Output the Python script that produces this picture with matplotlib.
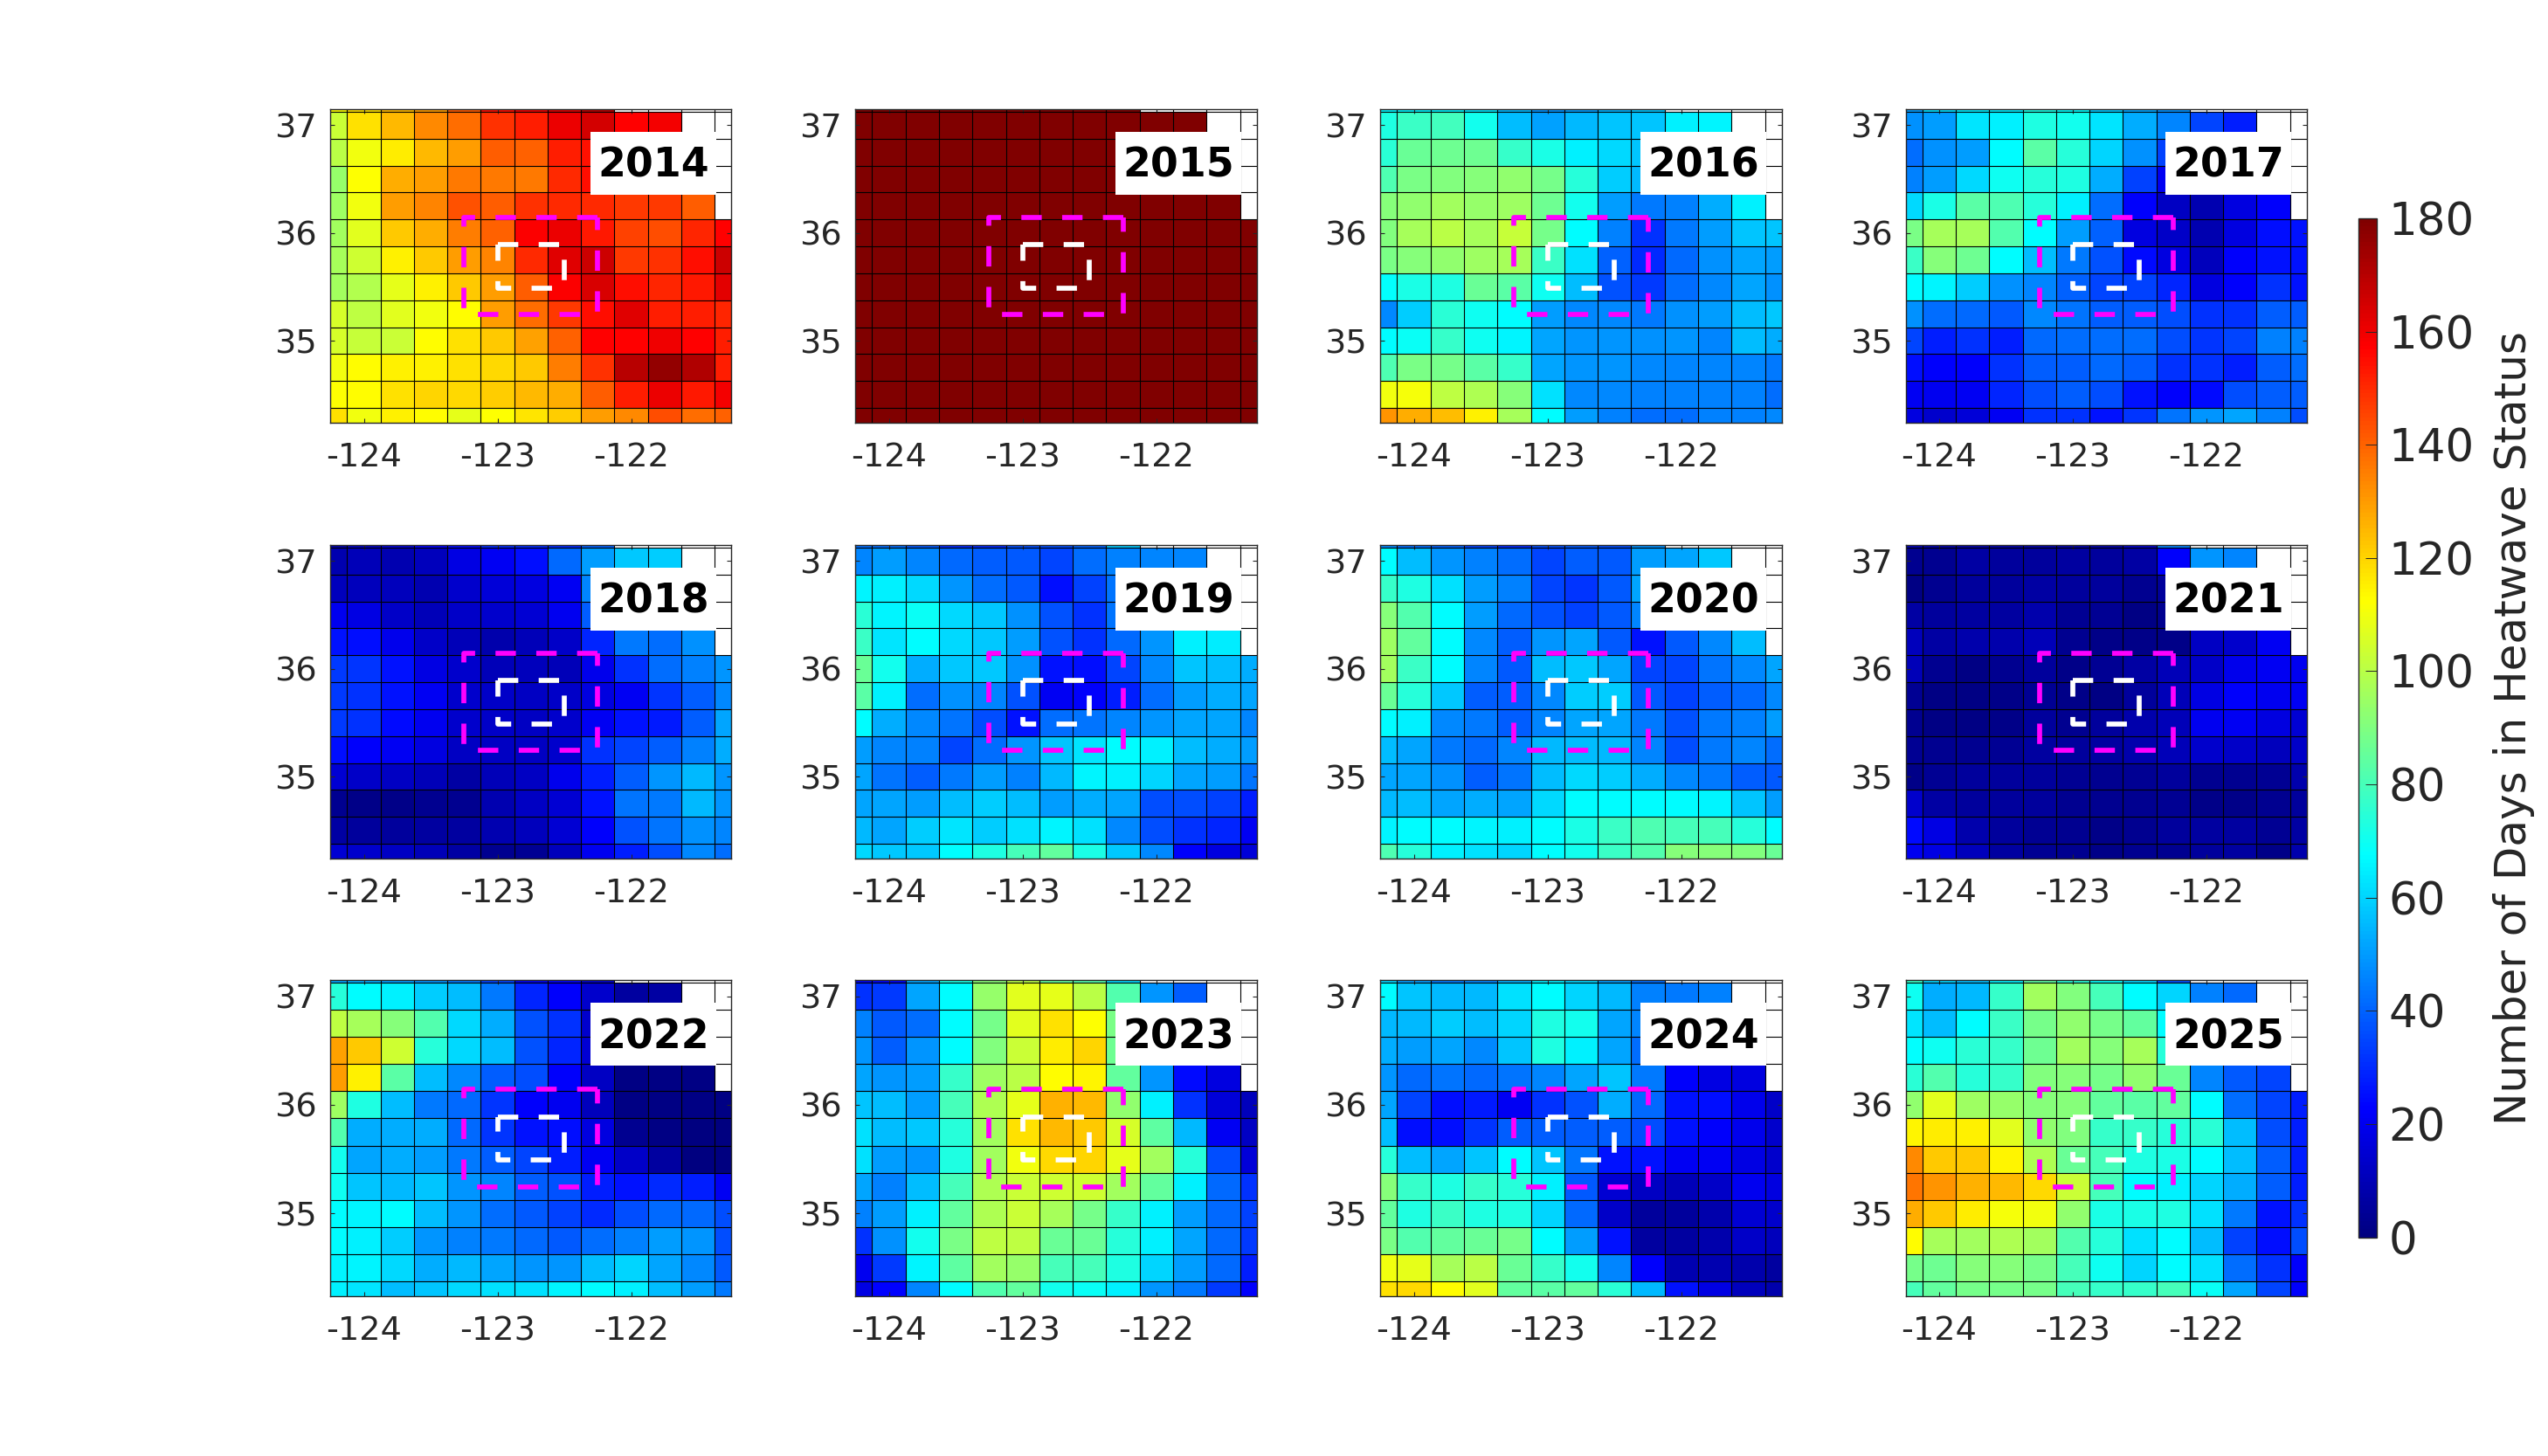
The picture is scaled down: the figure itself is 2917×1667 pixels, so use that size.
"""
Number of days in heatwave status per year, on a 0.25 degree grid.
"""

import numpy as np
import matplotlib

matplotlib.use("Agg")
import matplotlib.pyplot as plt
from matplotlib.colors import LinearSegmentedColormap
from matplotlib.patches import Rectangle

n = np.nan

lons = [-124.25, -124.0, -123.75, -123.5, -123.25, -123.0, -122.75, -122.5, -122.25, -122.0, -121.75, -121.5, -121.25]
lats = [37.25, 37.0, 36.75, 36.5, 36.25, 36.0, 35.75, 35.5, 35.25, 35.0, 34.75, 34.5, 34.25]

days_2014 = [
    [112, 118, 125, 130, 142, 155, 160, 163, 170, n, n, n, n],
    [103, 118, 125, 133, 138, 149, 152, 161, 165, 157, 159, n, n],
    [100, 110, 116, 125, 130, 141, 140, 152, 154, 155, 155, n, n],
    [94, 112, 127, 130, 136, 136, 136, 150, 155, 154, 152, n, n],
    [95, 110, 130, 134, 143, 141, 149, 150, 150, 147, 147, 141, n],
    [96, 107, 122, 127, 135, 140, 158, 161, 153, 146, 144, 151, 157],
    [97, 104, 115, 122, 130, 134, 150, 163, 166, 147, 149, 155, 166],
    [96, 99, 108, 115, 122, 130, 141, 158, 164, 155, 151, 153, 162],
    [105, 101, 107, 110, 113, 130, 138, 147, 155, 163, 152, 152, 151],
    [105, 102, 103, 113, 118, 122, 129, 140, 157, 157, 160, 157, 152],
    [110, 113, 115, 115, 118, 119, 122, 135, 149, 170, 176, 171, 152],
    [112, 113, 118, 120, 119, 121, 125, 127, 141, 152, 161, 153, 159],
    [118, 110, 115, 113, 108, 112, 117, 121, 130, 133, 144, 138, 140],
]
days_2015 = [
    [180, 180, 180, 180, 180, 180, 180, 180, 180, n, n, n, n],
    [180, 180, 180, 180, 180, 180, 180, 180, 180, 180, 180, n, n],
    [180, 180, 180, 180, 180, 180, 180, 180, 180, 180, 180, n, n],
    [180, 180, 180, 180, 180, 180, 180, 180, 180, 180, 180, n, n],
    [180, 180, 180, 180, 180, 180, 180, 180, 180, 180, 180, 180, n],
    [180, 180, 180, 180, 180, 180, 180, 180, 180, 180, 180, 180, 180],
    [180, 180, 180, 180, 180, 180, 180, 180, 180, 180, 180, 180, 180],
    [180, 180, 180, 180, 180, 180, 180, 180, 180, 180, 180, 180, 180],
    [180, 180, 180, 180, 180, 180, 180, 180, 180, 180, 180, 180, 180],
    [180, 180, 180, 180, 180, 180, 180, 180, 180, 180, 180, 180, 180],
    [180, 180, 180, 180, 180, 180, 180, 180, 180, 180, 180, 180, 180],
    [180, 180, 180, 180, 180, 180, 180, 180, 180, 180, 180, 180, 180],
    [180, 180, 180, 180, 180, 180, 180, 180, 180, 180, 180, 180, 180],
]
days_2016 = [
    [66, 66, 66, 63, 55, 48, 50, 54, 57, n, n, n, n],
    [73, 78, 79, 71, 56, 51, 55, 57, 57, 65, 66, n, n],
    [75, 86, 87, 87, 77, 72, 65, 61, 57, 58, 60, n, n],
    [81, 89, 90, 91, 93, 88, 74, 59, 55, 50, 50, n, n],
    [91, 93, 96, 94, 95, 87, 71, 50, 44, 45, 53, 65, n],
    [90, 97, 100, 97, 102, 88, 67, 45, 31, 44, 50, 57, 57],
    [89, 91, 93, 95, 97, 78, 62, 40, 30, 41, 48, 52, 50],
    [68, 72, 73, 86, 83, 70, 56, 37, 33, 42, 47, 52, 48],
    [47, 59, 75, 70, 67, 50, 47, 47, 44, 48, 50, 56, 58],
    [67, 69, 77, 70, 66, 52, 49, 49, 48, 49, 46, 56, 53],
    [81, 89, 88, 83, 77, 52, 49, 49, 47, 46, 46, 46, 44],
    [110, 111, 101, 98, 91, 62, 47, 47, 45, 45, 45, 45, 42],
    [131, 127, 124, 115, 97, 67, 50, 45, 42, 42, 45, 45, 47],
]
days_2017 = [
    [50, 62, 64, 64, 72, 68, 58, 52, 48, n, n, n, n],
    [48, 50, 63, 65, 73, 71, 63, 53, 46, 35, 28, n, n],
    [42, 48, 50, 67, 83, 74, 60, 48, 34, 30, 30, n, n],
    [45, 50, 61, 70, 74, 73, 53, 34, 21, 22, 22, n, n],
    [61, 72, 83, 81, 74, 65, 42, 22, 12, 9, 17, 22, n],
    [89, 97, 97, 82, 67, 50, 40, 17, 13, 9, 17, 25, 26],
    [78, 91, 87, 67, 56, 44, 37, 24, 17, 11, 22, 26, 26],
    [67, 66, 59, 48, 46, 40, 35, 34, 29, 17, 22, 31, 26],
    [48, 42, 41, 38, 47, 43, 39, 39, 36, 31, 31, 39, 39],
    [35, 28, 31, 28, 41, 42, 42, 42, 36, 32, 35, 45, 45],
    [25, 22, 22, 31, 39, 39, 41, 39, 31, 31, 28, 39, 42],
    [21, 20, 21, 29, 36, 39, 36, 26, 22, 24, 36, 39, 39],
    [17, 14, 16, 21, 31, 31, 26, 32, 43, 49, 52, 45, 36],
]
days_2018 = [
    [8, 12, 16, 22, 24, 30, 30, 30, 40, n, n, n, n],
    [9, 10, 9, 11, 18, 21, 25, 41, 50, 58, 59, n, n],
    [11, 11, 11, 9, 14, 16, 17, 21, 46, 48, 48, n, n],
    [20, 18, 13, 10, 13, 14, 15, 20, 39, 40, 40, n, n],
    [26, 25, 19, 13, 10, 8, 10, 13, 29, 44, 42, 48, n],
    [33, 32, 26, 18, 14, 10, 11, 10, 19, 31, 42, 45, 49],
    [33, 31, 26, 21, 14, 13, 12, 13, 17, 21, 32, 39, 47],
    [33, 31, 24, 20, 14, 13, 12, 14, 21, 26, 27, 39, 52],
    [25, 22, 21, 17, 12, 12, 12, 14, 31, 35, 39, 45, 53],
    [15, 13, 12, 10, 7, 10, 12, 19, 28, 39, 49, 55, 49],
    [3, 2, 2, 3, 3, 9, 12, 15, 26, 43, 44, 55, 49],
    [7, 5, 5, 6, 6, 9, 11, 15, 22, 37, 43, 48, 46],
    [15, 14, 12, 10, 7, 3, 4, 11, 20, 28, 36, 47, 42],
]
days_2019 = [
    [42, 42, 38, 30, 30, 36, 36, 40, 58, n, n, n, n],
    [46, 50, 46, 41, 39, 38, 35, 42, 45, 46, 46, n, n],
    [66, 65, 61, 49, 42, 38, 25, 34, 43, 50, 52, n, n],
    [75, 66, 69, 61, 58, 48, 37, 31, 43, 55, 60, n, n],
    [78, 63, 67, 61, 58, 50, 37, 31, 41, 49, 65, 64, n],
    [86, 71, 53, 58, 58, 48, 26, 25, 35, 47, 57, 56, 53],
    [83, 65, 42, 48, 46, 37, 21, 22, 28, 42, 50, 53, 52],
    [67, 53, 47, 43, 36, 26, 42, 43, 46, 49, 52, 52, 46],
    [50, 46, 45, 35, 42, 49, 57, 63, 67, 65, 56, 53, 50],
    [52, 43, 39, 44, 50, 45, 55, 66, 65, 60, 52, 50, 43],
    [52, 52, 50, 56, 59, 56, 50, 53, 52, 36, 36, 34, 28],
    [55, 52, 59, 63, 59, 62, 66, 62, 47, 36, 31, 29, 21],
    [61, 58, 58, 67, 73, 80, 85, 72, 58, 47, 22, 17, 16],
]
days_2020 = [
    [47, 42, 40, 34, 30, 36, 38, 36, 48, n, n, n, n],
    [67, 56, 49, 45, 42, 35, 39, 38, 50, 52, 58, n, n],
    [77, 73, 62, 50, 45, 35, 32, 38, 52, 52, 54, n, n],
    [91, 82, 67, 50, 41, 37, 34, 38, 46, 48, 50, n, n],
    [95, 85, 67, 47, 39, 49, 52, 38, 26, 38, 47, 56, n],
    [96, 78, 67, 46, 38, 56, 58, 52, 35, 35, 43, 47, 52],
    [86, 74, 58, 39, 39, 47, 59, 59, 38, 34, 39, 41, 47],
    [67, 65, 47, 44, 39, 46, 52, 52, 44, 37, 44, 45, 50],
    [56, 52, 44, 41, 46, 55, 56, 55, 46, 36, 44, 46, 42],
    [52, 52, 48, 39, 43, 56, 61, 59, 53, 47, 44, 39, 38],
    [55, 56, 52, 53, 52, 61, 67, 67, 67, 67, 66, 57, 50],
    [66, 67, 67, 66, 65, 67, 72, 78, 81, 80, 80, 74, 67],
    [81, 74, 65, 62, 60, 67, 71, 78, 82, 91, 91, 90, 86],
]
days_2021 = [
    [10, 8, 8, 8, 8, 8, 8, 14, 45, n, n, n, n],
    [3, 3, 7, 5, 5, 6, 5, 7, 22, 49, 46, n, n],
    [1, 3, 5, 5, 7, 5, 5, 3, 5, 12, 18, n, n],
    [7, 5, 6, 6, 8, 4, 4, 1, 3, 10, 12, n, n],
    [11, 7, 8, 8, 10, 3, 2, 2, 2, 12, 14, 21, n],
    [10, 3, 1, 3, 5, 2, 4, 7, 10, 13, 19, 21, 20],
    [4, 1, 1, 2, 4, 2, 1, 5, 10, 18, 22, 20, 21],
    [3, 1, 1, 2, 5, 3, 5, 8, 10, 20, 21, 17, 15],
    [4, 3, 3, 4, 6, 5, 6, 8, 10, 14, 13, 11, 13],
    [2, 4, 5, 5, 5, 4, 3, 4, 5, 3, 3, 4, 8],
    [14, 7, 5, 5, 5, 3, 3, 3, 4, 2, 2, 3, 5],
    [24, 18, 8, 5, 4, 3, 2, 3, 5, 6, 6, 4, 7],
    [20, 18, 11, 6, 4, 3, 2, 3, 3, 5, 6, 2, 8],
]
days_2022 = [
    [52, 53, 50, 48, 44, 34, 20, 22, 14, n, n, n, n],
    [74, 67, 65, 59, 56, 44, 29, 22, 14, 6, 7, n, n],
    [101, 97, 91, 82, 61, 53, 37, 31, 14, 8, 8, n, n],
    [129, 122, 104, 74, 61, 56, 37, 29, 15, 6, 5, n, n],
    [130, 115, 83, 56, 47, 39, 36, 22, 12, 1, 1, 1, n],
    [95, 73, 56, 44, 41, 32, 22, 20, 11, 1, 1, 1, 1],
    [82, 53, 53, 53, 41, 32, 26, 25, 17, 3, 1, 0, 0],
    [71, 52, 53, 50, 44, 39, 35, 28, 21, 13, 6, 0, 0],
    [70, 57, 55, 57, 49, 46, 39, 37, 28, 26, 30, 28, 21],
    [67, 66, 67, 56, 49, 42, 38, 34, 30, 36, 41, 41, 36],
    [67, 65, 59, 49, 45, 44, 41, 38, 42, 45, 50, 49, 36],
    [66, 66, 61, 53, 55, 52, 49, 49, 56, 60, 52, 47, 38],
    [65, 63, 56, 57, 61, 62, 62, 66, 67, 65, 56, 50, 44],
]
days_2023 = [
    [20, 22, 52, 72, 92, 100, 85, 82, 60, n, n, n, n],
    [31, 33, 52, 67, 94, 107, 108, 100, 82, 49, 39, n, n],
    [45, 38, 42, 67, 88, 107, 118, 112, 89, 50, 40, n, n],
    [49, 39, 49, 67, 90, 103, 116, 120, 87, 48, 28, n, n],
    [52, 49, 50, 77, 95, 100, 113, 114, 85, 49, 24, 17, n],
    [57, 56, 50, 80, 98, 108, 126, 125, 93, 65, 31, 16, 11],
    [62, 56, 58, 74, 96, 118, 125, 122, 105, 84, 55, 21, 12],
    [62, 50, 49, 73, 96, 110, 119, 120, 108, 96, 74, 36, 16],
    [52, 45, 56, 80, 98, 103, 104, 104, 96, 85, 65, 41, 31],
    [45, 50, 65, 85, 98, 103, 97, 88, 77, 65, 50, 41, 34],
    [31, 48, 71, 89, 101, 101, 86, 86, 74, 65, 52, 41, 33],
    [20, 33, 66, 84, 96, 94, 80, 80, 73, 60, 50, 41, 28],
    [18, 23, 46, 67, 82, 85, 71, 69, 65, 49, 44, 33, 22],
]
days_2024 = [
    [60, 50, 44, 46, 54, 64, 60, 50, 42, n, n, n, n],
    [67, 57, 55, 55, 62, 67, 60, 55, 45, 44, 45, n, n],
    [55, 55, 59, 56, 60, 73, 71, 52, 46, 42, 40, n, n],
    [53, 50, 52, 47, 57, 73, 65, 52, 42, 30, 25, n, n],
    [49, 41, 43, 41, 43, 46, 52, 57, 44, 22, 18, 17, n],
    [52, 35, 25, 27, 21, 31, 37, 53, 41, 26, 25, 19, 13],
    [56, 25, 25, 32, 39, 39, 39, 39, 36, 26, 22, 19, 14],
    [74, 56, 52, 57, 67, 57, 43, 26, 26, 21, 21, 18, 14],
    [91, 77, 73, 77, 74, 65, 38, 15, 12, 10, 13, 20, 17],
    [85, 73, 78, 73, 73, 60, 41, 13, 5, 5, 8, 15, 14],
    [89, 82, 85, 86, 88, 67, 50, 26, 6, 6, 8, 13, 11],
    [110, 108, 97, 100, 86, 77, 71, 46, 22, 9, 9, 8, 6],
    [118, 119, 113, 107, 85, 83, 85, 75, 55, 26, 18, 11, 8],
]
days_2025 = [
    [78, 60, 56, 65, 84, 74, 68, 60, 36, n, n, n, n],
    [70, 53, 55, 77, 96, 90, 80, 67, 60, 45, 41, n, n],
    [63, 56, 67, 78, 88, 93, 88, 85, 67, 55, 45, n, n],
    [68, 70, 75, 77, 87, 96, 91, 97, 74, 55, 45, n, n],
    [75, 82, 74, 77, 90, 91, 88, 93, 86, 46, 38, 35, n],
    [93, 107, 95, 94, 91, 91, 85, 83, 85, 67, 42, 35, 28],
    [114, 116, 115, 107, 93, 90, 77, 77, 74, 75, 56, 36, 28],
    [133, 122, 122, 114, 98, 86, 80, 73, 72, 67, 56, 39, 28],
    [137, 131, 126, 125, 119, 103, 80, 67, 65, 60, 53, 39, 28],
    [127, 122, 116, 111, 110, 93, 72, 72, 73, 62, 44, 26, 31],
    [113, 97, 96, 98, 96, 82, 74, 62, 67, 56, 34, 25, 36],
    [88, 87, 91, 91, 88, 80, 70, 60, 67, 62, 42, 31, 22],
    [80, 85, 88, 88, 88, 80, 77, 77, 80, 69, 52, 35, 22],
]

years = [2014, 2015, 2016, 2017, 2018, 2019, 2020, 2021, 2022, 2023, 2024, 2025]
grids = [days_2014, days_2015, days_2016, days_2017, days_2018, days_2019,
         days_2020, days_2021, days_2022, days_2023, days_2024, days_2025]

# outer and inner study boxes
outer_lon = [-122.25, -123.25, -123.25, -122.25, -122.25]
outer_lat = [36.145, 36.145, 35.24, 35.24, 36.145]
inner_lon = [-123.0, -122.5, -122.5, -123.0, -123.0]
inner_lat = [35.89, 35.89, 35.49, 35.49, 35.89]

W, H = 2917, 1667
DPI = 100
GRAY = "#262626"

# same as matlab jet, matplotlib's one has slightly different breakpoints
jet = LinearSegmentedColormap(
    "mjet",
    {
        "red": [(0, 0, 0), (3 / 8, 0, 0), (5 / 8, 1, 1), (7 / 8, 1, 1), (1, 0.5, 0.5)],
        "green": [(0, 0, 0), (1 / 8, 0, 0), (3 / 8, 1, 1), (5 / 8, 1, 1), (7 / 8, 0, 0), (1, 0, 0)],
        "blue": [(0, 0.5, 0.5), (1 / 8, 1, 1), (3 / 8, 1, 1), (5 / 8, 0, 0), (1, 0, 0)],
    },
    N=256,
)

plt.rcParams.update({"font.family": "DejaVu Sans", "font.size": 26})


def add_axes_px(fig, left, top, right, bottom):
    return fig.add_axes([left / W, 1 - bottom / H, (right - left) / W, (bottom - top) / H])


fig = plt.figure(figsize=(W / DPI, H / DPI), dpi=DPI)

lefts = [378.3, 979.3, 1580.3, 2181.7]
rights = [837.3, 1438.7, 2039.7, 2640.7]
tops = [125, 624, 1122]
bottoms = [484, 983, 1484]

lon_edges = (np.array(lons[:-1]) + np.array(lons[1:])) / 2
lat_edges = (np.array(lats[:-1]) + np.array(lats[1:])) / 2

for idx, (year, grid) in enumerate(zip(years, grids)):
    row, col = divmod(idx, 4)
    ax = add_axes_px(fig, lefts[col], tops[row], rights[col], bottoms[row])
    mesh = ax.pcolormesh(lons, lats, np.array(grid, dtype=float), cmap=jet, vmin=0, vmax=180,
                         shading="nearest", edgecolors="none", antialiased=False)
    ax.vlines(lon_edges, 34, 38, color="k", lw=0.8, zorder=2)
    ax.hlines(lat_edges, -125, -121, color="k", lw=0.8, zorder=2)
    ax.plot(outer_lon, outer_lat, color="#ff00ff", lw=4.1, linestyle=(0, (4.1, 4.1)),
            dash_capstyle="butt", dash_joinstyle="round", zorder=3)
    ax.plot(inner_lon, inner_lat, color="white", lw=4.1, linestyle=(0, (4.1, 4.1)),
            dash_capstyle="butt", dash_joinstyle="round", zorder=3)
    ax.add_patch(Rectangle((0.6486, 0.728), 0.3137, 0.1996, transform=ax.transAxes,
                           facecolor="white", edgecolor="none", zorder=4))
    ax.text(0.805, 0.818, str(year), transform=ax.transAxes, ha="center", va="center",
            fontsize=33, fontweight="bold", color="k", zorder=5)
    ax.set_xlim(-124.25, -121.25)
    ax.set_ylim(34.238, 37.149)
    ax.set_xticks([-124, -123, -122], labels=["-124", "-123", "-122"])
    ax.set_yticks([35, 36, 37], labels=["35", "36", "37"])
    ax.tick_params(axis="both", direction="in", top=True, right=True, length=3.6, width=0.8,
                   color=GRAY, labelcolor=GRAY, labelsize=27.5)
    ax.tick_params(axis="x", pad=16)
    ax.tick_params(axis="y", pad=11)
    for spine in ax.spines.values():
        spine.set_linewidth(1.0)
        spine.set_color(GRAY)
        spine.set_zorder(6)

cax = add_axes_px(fig, 2700.3, 250, 2720.7, 1416.5)
cbar = fig.colorbar(mesh, cax=cax, ticks=np.arange(0, 181, 20))
cbar.ax.tick_params(direction="in", length=9.4, width=0.7, color=GRAY, labelcolor=GRAY,
                    labelsize=37, pad=10)
cbar.outline.set_linewidth(1.0)
cbar.outline.set_edgecolor(GRAY)
cbar.set_label("Number of Days in Heatwave Status", fontsize=36, color=GRAY, labelpad=15)

fig.savefig("out.png", dpi=DPI)
